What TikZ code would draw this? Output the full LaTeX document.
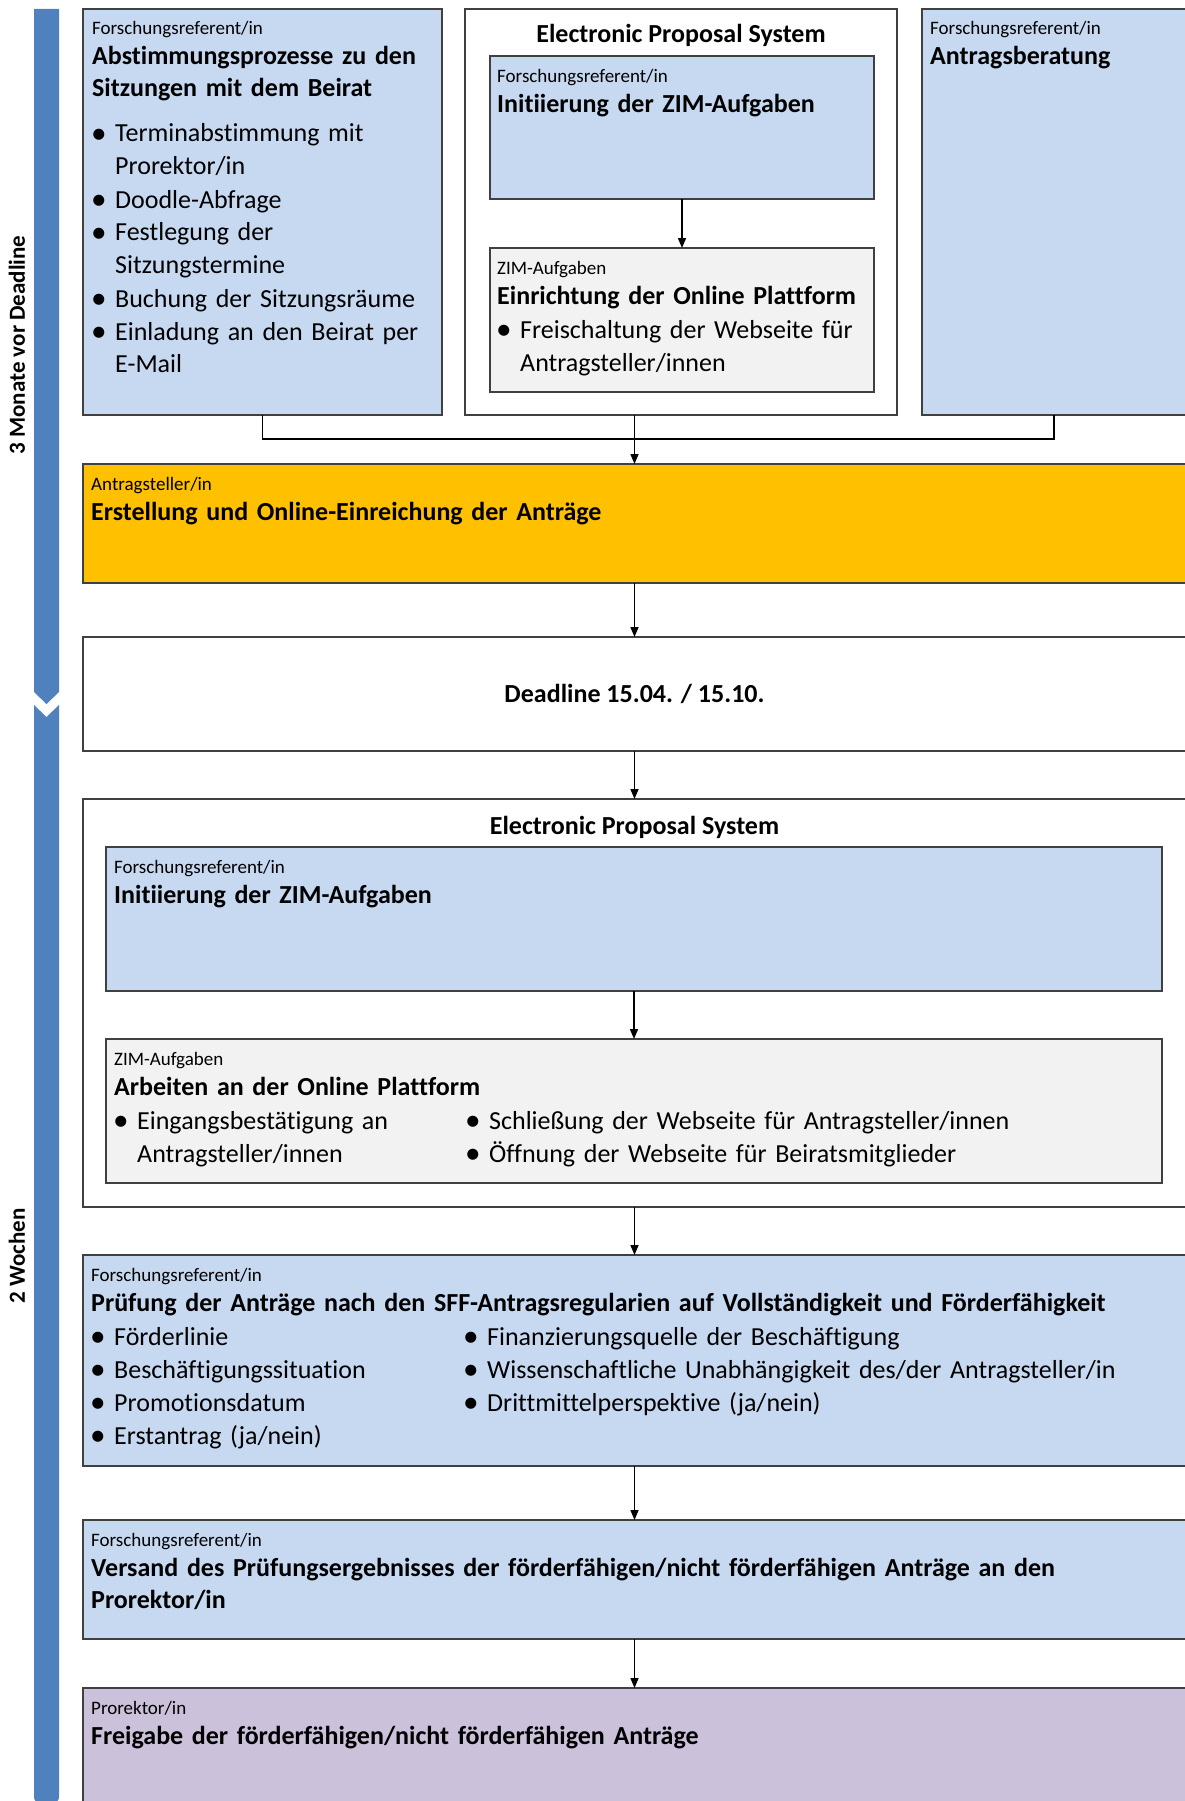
\documentclass[tikz,border=0pt]{standalone}
\usepackage{fontspec}
\usepackage{graphicx}
\setmainfont[Ligatures=NoCommon]{Carlito}
\usetikzlibrary{arrows.meta}
\usetikzlibrary{positioning}

\definecolor{zeitblau}{RGB}{79,129,189}
\definecolor{boxblau}{RGB}{198,217,241}
\definecolor{boxgrau}{RGB}{242,242,242}
\definecolor{boxorange}{RGB}{255,192,0}
\definecolor{boxlila}{RGB}{204,193,218}
\definecolor{rahmen}{RGB}{64,64,64}

\newcommand{\rolle}{\fontsize{19}{33}\selectfont}
\newcommand{\punkt}{\raisebox{-1.2pt}{\scalebox{1.2}{\textbullet}}}
\newcommand{\itm}[1]{\makebox[23pt][l]{\hspace*{-1pt}\punkt}#1}
\newcommand{\weiter}[1]{\hspace*{23pt}#1}

\begin{document}
\begin{tikzpicture}[x=1pt,y=-1pt,
kasten/.style={draw=rahmen, line width=1.2pt, inner sep=0pt, outer sep=0pt, anchor=north west},
inhalt/.style={anchor=base west, inner sep=0pt, align=left, font=\fontsize{26}{33}\selectfont},
kopf/.style={anchor=base, inner sep=0pt, font=\fontsize{26}{33}\selectfont\bfseries},
phase/.style={rotate=90, font=\fontsize{23}{27}\selectfont\bfseries},
pfeil/.style={-{Triangle[length=10pt,width=8pt]}, line width=1.5pt},
linie/.style={line width=1.5pt}]
\useasboundingbox (0,0) rectangle (1185,1801);
\clip (0,0) rectangle (1185,1801);

% Zeitleiste
\fill[zeitblau] (34,9) -- (59,9) -- (59,692) -- (46.5,704) -- (34,692) -- cycle;
\fill[zeitblau] (59,705) -- (46.5,717) -- (34,705) -- (34,1790) [rounded corners=6pt] -- (34,1803) -- (59,1803) -- (59,1790) [sharp corners] -- (59,1780) -- cycle;
\node[phase] (phase1) at (17,345) {3 Monate vor Deadline};
\node[phase] (phase2) at (17,1256) {2 Wochen};

% obere Reihe
\node[kasten, fill=boxblau, minimum width=359pt, minimum height=406pt] (abst) at (83,9) {};
\node[kasten, fill=white, minimum width=432pt, minimum height=406pt] (eps1) at (465,9) {};
\node[kasten, fill=boxblau, minimum width=384pt, minimum height=143pt] (init1) at (490,56) {};
\node[kasten, fill=boxgrau, minimum width=384pt, minimum height=144pt] (zim1) at (490,248) {};
\node[kasten, fill=boxblau, minimum width=264pt, minimum height=406pt] (berat) at (922,9) {};

\node[inhalt, text width=345pt] (abst-t) at ([shift={(9,26)}]abst.north west) {{\rolle Forschungsreferent/in}\\[-3pt]
\textbf{Abstimmungsprozesse zu den}\\[-1pt]
\textbf{Sitzungen mit dem Beirat}\\[12pt]
\itm{Terminabstimmung mit}\\
\weiter{Prorektor/in}\\
\itm{Doodle-Abfrage}\\
\itm{Festlegung der}\\
\weiter{Sitzungstermine}\\
\itm{Buchung der Sitzungsräume}\\
\itm{Einladung an den Beirat per}\\
\weiter{E-Mail}};
\node[kopf] (eps1-t) at ([shift={(0,34)}]eps1.north) {Electronic Proposal System};
\node[inhalt, text width=370pt] (init1-t) at ([shift={(7,26)}]init1.north west) {{\rolle Forschungsreferent/in}\\[-3pt]
\textbf{Initiierung der ZIM-Aufgaben}};
\node[inhalt, text width=370pt] (zim1-t) at ([shift={(7,26)}]zim1.north west) {{\rolle ZIM-Aufgaben}\\[-3pt]
\textbf{Einrichtung der Online Plattform}\\[1pt]
\itm{Freischaltung der Webseite für}\\
\weiter{Antragsteller/innen}};
\node[inhalt, text width=250pt] (berat-t) at ([shift={(8,26)}]berat.north west) {{\rolle Forschungsreferent/in}\\[-3pt]
\textbf{Antragsberatung}};

% Ablauf
\node[kasten, fill=boxorange, minimum width=1103pt, minimum height=119pt] (antrag) at (83,464) {};
\node[kasten, fill=white, minimum width=1103pt, minimum height=114pt] (deadl) at (83,637) {};
\node[kasten, fill=white, minimum width=1103pt, minimum height=408pt] (eps2) at (83,799) {};
\node[kasten, fill=boxblau, minimum width=1056pt, minimum height=144pt] (init2) at (106,847) {};
\node[kasten, fill=boxgrau, minimum width=1056pt, minimum height=144pt] (zim2) at (106,1039) {};
\node[kasten, fill=boxblau, minimum width=1103pt, minimum height=211pt] (pruef) at (83,1255) {};
\node[kasten, fill=boxblau, minimum width=1103pt, minimum height=119pt] (versand) at (83,1520) {};
\node[kasten, fill=boxlila, minimum width=1103pt, minimum height=130pt] (freig) at (83,1688) {};

\node[inhalt, text width=1090pt] (antrag-t) at ([shift={(8,26)}]antrag.north west) {{\rolle Antragsteller/in}\\[-3pt]
\textbf{Erstellung und Online-Einreichung der Anträge}};
\node[kopf] (deadl-t) at ([shift={(0,8)}]deadl.center) {Deadline 15.04. / 15.10.};
\node[kopf] (eps2-t) at ([shift={(0,35)}]eps2.north) {Electronic Proposal System};
\node[inhalt, text width=1040pt] (init2-t) at ([shift={(8,26)}]init2.north west) {{\rolle Forschungsreferent/in}\\[-3pt]
\textbf{Initiierung der ZIM-Aufgaben}};
\node[inhalt, text width=1040pt] (zim2-t) at ([shift={(8,26)}]zim2.north west) {{\rolle ZIM-Aufgaben}\\[-3pt]
\textbf{Arbeiten an der Online Plattform}\\[1pt]
\begin{tabular}[t]{@{}p{352pt}@{}l@{}}
\itm{Eingangsbestätigung an} & \itm{Schließung der Webseite für Antragsteller/innen}\\
\weiter{Antragsteller/innen} & \itm{Öffnung der Webseite für Beiratsmitglieder}
\end{tabular}};
\node[inhalt, text width=1100pt] (pruef-t) at ([shift={(8,26)}]pruef.north west) {{\rolle Forschungsreferent/in}\\[-3pt]
\textbf{Prüfung der Anträge nach den SFF-Antragsregularien auf Vollständigkeit und Förderfähigkeit}\\[1pt]
\begin{tabular}[t]{@{}p{373pt}@{}l@{}}
\itm{Förderlinie} & \itm{Finanzierungsquelle der Beschäftigung}\\
\itm{Beschäftigungssituation} & \itm{Wissenschaftliche Unabhängigkeit des/der Antragsteller/in}\\
\itm{Promotionsdatum} & \itm{Drittmittelperspektive (ja/nein)}\\
\itm{Erstantrag (ja/nein)} &
\end{tabular}};
\node[inhalt, text width=1100pt] (versand-t) at ([shift={(8,26)}]versand.north west) {{\rolle Forschungsreferent/in}\\[-3pt]
\textbf{Versand des Prüfungsergebnisses der förderfähigen/nicht förderfähigen Anträge an den}\\[-1pt]
\textbf{Prorektor/in}};
\node[inhalt, text width=1100pt] (freig-t) at ([shift={(8,26)}]freig.north west) {{\rolle Prorektor/in}\\[-3pt]
\textbf{Freigabe der förderfähigen/nicht förderfähigen Anträge}};

% Verbindungen
\draw[linie] (abst.south) -- ++(0,24) -| (berat.south);
\draw[pfeil] (eps1.south -| antrag.north) -- (antrag.north);
\draw[pfeil] (init1) -- (zim1);
\draw[pfeil] (antrag) -- (deadl);
\draw[pfeil] (deadl) -- (eps2);
\draw[pfeil] (init2) -- (zim2);
\draw[pfeil] (eps2) -- (pruef);
\draw[pfeil] (pruef) -- (versand);
\draw[pfeil] (versand) -- (freig);
\end{tikzpicture}
\end{document}
